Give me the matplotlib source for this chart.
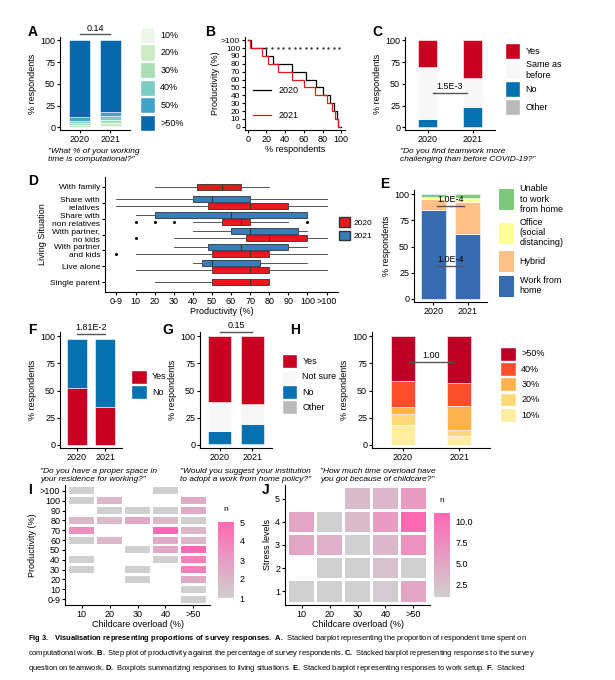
import numpy as np
import matplotlib
matplotlib.use("Agg")
import matplotlib.pyplot as plt
from matplotlib.patches import Patch
from matplotlib.colors import LinearSegmentedColormap

plt.rcParams['font.family'] = ['Liberation Sans', 'DejaVu Sans']
plt.rcParams['font.size'] = 6.5
plt.rcParams['mathtext.fontset'] = 'custom'
plt.rcParams['mathtext.rm'] = 'Liberation Sans'
plt.rcParams['mathtext.bf'] = 'Liberation Sans:bold'

W, H = 615, 680
years = ['2020', '2021']

# A
a_labels = ['10%', '20%', '30%', '40%', '50%', '>50%']
a_2020 = [1, 2, 2, 2, 5, 88]
a_2021 = [2, 3, 3, 5, 5, 82]
a_colors = ['#eef8ea', '#ccebc5', '#a8ddb5', '#7bccc4', '#43a2ca', '#0868ac']

# B: step plot, level ends (x) for each productivity level
b_levels = [110, 100, 90, 80, 70, 60, 50, 40, 30, 20, 10, 0]
b_2020_x = [3, 20, 27, 47, 62, 73, 80, 88, 92, 95, 97, 100]
b_2021_x = [2, 15, 22, 32, 47, 60, 72, 85, 90, 93, 96, 99]

# C
c_labels = ['Other', 'No', 'Same as\nbefore', 'Yes']
c_2020 = [1, 9, 59, 31]
c_2021 = [1, 22, 34, 43]
c_colors = ['#bababa', '#0571b0', '#f7f7f7', '#ca0020']

# D: box stats (low whisker, q1, median, q3, high whisker)
d_groups = ['With family', 'Share with\nrelatives', 'Share with\nnon relatives',
            'With partner,\nno kids', 'With partner\nand kids', 'Live alone', 'Single parent']
d_2021 = [None, (0, 40, 50, 70, 110), (10, 20, 60, 100, 100), (40, 60, 70, 95, 100),
          (30, 48, 65, 90, 100), (40, 45, 50, 75, 100), None]
d_2020 = [(20, 42, 55, 65, 80), (0, 48, 70, 90, 110), (40, 55, 65, 70, 90), (30, 68, 80, 100, 110),
          (10, 50, 70, 80, 110), (10, 50, 70, 80, 110), (20, 50, 70, 80, 80)]
d_fliers_2020 = [[], [], [10, 20, 30, 100], [10], [0], [], []]
d_ticks = ['0-9', '10', '20', '30', '40', '50', '60', '70', '80', '90', '100', '>100']

# E
e_labels = ['Work from\nhome', 'Hybrid', 'Office\n(social\ndistancing)', 'Unable\nto work\nfrom home']
e_2020 = [85, 10, 2, 3]
e_2021 = [62, 31, 3, 4]
e_colors = ['#386cb0', '#fdc086', '#ffff99', '#7fc97f']

# F
f_labels = ['Yes', 'No']
f_2020 = [52, 46]
f_2021 = [35, 63]
f_colors = ['#ca0020', '#0571b0']

# G
g_labels = ['Other', 'No', 'Not sure', 'Yes']
g_2020 = [0.5, 12.5, 26, 61]
g_2021 = [1, 18, 19, 62]
g_colors = ['#bababa', '#0571b0', '#f7f7f7', '#ca0020']

# H
h_labels = ['10%', '20%', '30%', '40%', '>50%']
h_2020 = [18, 10, 7, 24, 41]
h_2021 = [8, 6, 22, 21, 43]
h_colors = ['#ffeda0', '#fed976', '#feb24c', '#fc4e2a', '#bd0026']

# I heatmap
childcare = ['10', '20', '30', '40', '>50']
i_prod = ['0-9', '10', '20', '30', '40', '50', '60', '70', '80', '90', '100', '>100']
i_vals = {  # productivity -> counts per childcare level (0 = none)
    '>100': [1, 0, 0, 1, 0],
    '100': [1, 2, 0, 0, 2.5],
    '90': [0, 1, 1, 1, 2.5],
    '80': [2, 1.8, 2.5, 1.8, 1],
    '70': [3.5, 0, 0, 5, 2],
    '60': [1, 2, 0, 2.5, 2],
    '50': [0, 0, 1, 2.5, 5],
    '40': [1, 0, 0, 1, 4],
    '30': [1, 0, 1, 0, 4],
    '20': [0, 0, 1, 0, 2.5],
    '10': [0, 0, 0, 0, 1],
    '0-9': [0, 0, 0, 0, 1],
}
# J heatmap
j_stress = ['1', '2', '3', '4', '5']
j_vals = {
    '5': [0, 0, 3, 3.5, 6],
    '4': [5, 1, 3, 6, 11],
    '3': [5, 4, 1, 3.5, 7],
    '2': [0, 1, 1, 2.5, 1],
    '1': [1, 1, 1, 1.5, 5],
}

cmap = LinearSegmentedColormap.from_list('gp', ['#d0d0d0', '#ff69b4'])

fig = plt.figure(figsize=(W / 100, H / 100), dpi=100)


def add_ax(l, t, r, b):
    return fig.add_axes([l / W, 1 - b / H, (r - l) / W, (b - t) / H])


def style(ax):
    ax.spines['top'].set_visible(False)
    ax.spines['right'].set_visible(False)
    ax.tick_params(length=2, pad=1.5)


def letter(x, y, s):
    fig.text(x / W, 1 - y / H, s, fontsize=10, fontweight='bold', va='center')


def stacked(ax, vals20, vals21, colors, labels, legend_rev=True, xlim=(-0.6, 1.6), width=0.7,
            hh=2.4):
    b0 = np.zeros(2)
    handles = []
    for v0, v1, c, lab in zip(vals20, vals21, colors, labels):
        ax.bar([0, 1], [v0, v1], bottom=b0, color=c, width=width, edgecolor='white', linewidth=0.4)
        b0 = b0 + np.array([v0, v1])
        handles.append(Patch(facecolor=c, edgecolor='white', label=lab))
    ax.set_xticks([0, 1], years)
    ax.set_xlim(*xlim)
    ax.set_ylim(-3, 104)
    ax.set_yticks([0, 25, 50, 75, 100])
    ax.set_ylabel('% respondents', fontsize=6.5, labelpad=2)
    style(ax)
    if legend_rev:
        handles = handles[::-1]
    ax.legend(handles=handles, loc='center left', bbox_to_anchor=(1.02, 0.55), frameon=False,
              handlelength=1.7, handleheight=hh, labelspacing=0.15, handletextpad=0.6, fontsize=6.5)


def bracket(ax, y, text, x0=0, x1=1):
    ax.plot([x0, x1], [y, y], color='#555555', lw=1, clip_on=False)
    ax.text((x0 + x1) / 2, y + 2, text, ha='center', va='bottom', fontsize=6.5)


def caption(x, y, s):
    fig.text(x / W, 1 - y / H, s, fontsize=6, style='italic', va='top')


# ---- A
ax = add_ax(60, 37, 130, 130)
stacked(ax, a_2020, a_2021, a_colors, a_labels, legend_rev=False, xlim=(-0.65, 1.65))
bracket(ax, 107, '0.14')
letter(28, 32, 'A')
caption(48, 148, '"What % of your working\ntime is computational?"')

# ---- B
ax = add_ax(245, 37, 345, 130)
for xs, col, lab in [(b_2020_x, 'black', '2020'), (b_2021_x, '#e41a1c', '2021')]:
    x = [0] + xs
    y = [b_levels[0]] + b_levels
    ax.step(x, y, where='pre', color=col, lw=0.9, label=lab)
dots = np.arange(20, 101, 6)
ax.plot(dots, [100] * len(dots), ls='none', marker='.', ms=1.5, color='#444444')
ax.set_yticks(np.arange(0, 111, 10), [str(v) for v in range(0, 101, 10)] + ['>100'])
ax.set_xticks([0, 20, 40, 60, 80, 100])
ax.set_xlim(-3, 104)
ax.set_ylim(-4, 114)
ax.set_xlabel('% respondents', fontsize=6.5, labelpad=1)
ax.set_ylabel('Productivity (%)', fontsize=6.5, labelpad=1)
ax.tick_params(axis='y', labelsize=6)
style(ax)
ax.legend(loc='lower left', bbox_to_anchor=(0.0, 0.02), frameon=False, handlelength=2, labelspacing=1.8, fontsize=6.5)
letter(205, 32, 'B')

# ---- C
ax = add_ax(405, 37, 495, 130)
stacked(ax, c_2020, c_2021, c_colors, c_labels, xlim=(-0.5, 1.5), width=0.42)
bracket(ax, 40, '1.5E-3', 0.12, 0.88)
letter(372, 32, 'C')
caption(400, 148, '"Do you find teamwork more\nchallenging than before COVID-19?"')

# ---- D
ax = add_ax(105, 177, 338, 292)
n = len(d_groups)
ypos = np.arange(n)[::-1]
for i in range(n):
    for stats, col, off, fl in [(d_2021[i], '#377eb8', 0.2, []), (d_2020[i], '#e41a1c', -0.2, d_fliers_2020[i])]:
        if stats is None:
            continue
        if d_2021[i] is None:
            off = 0
        lo, q1, med, q3, hi = stats
        st = dict(whislo=lo, q1=q1, med=med, q3=q3, whishi=hi, fliers=fl)
        ax.bxp([st], positions=[ypos[i] + off], widths=0.38, vert=False, patch_artist=True,
               boxprops=dict(facecolor=col, edgecolor='#333333', lw=0.6),
               medianprops=dict(color='#333333', lw=0.8),
               whiskerprops=dict(color='#555555', lw=0.7), showcaps=False,
               flierprops=dict(marker='o', ms=1.2, markerfacecolor='black', markeredgecolor='black'))
ax.set_yticks(ypos, d_groups)
ax.set_xticks(np.arange(0, 111, 10), d_ticks)
ax.set_xlim(-6, 116)
ax.set_ylim(-0.6, n - 0.4)
ax.tick_params(axis='y', labelsize=6)
ax.set_xlabel('Productivity (%)', fontsize=6.5, labelpad=1)
ax.set_ylabel('Living Situation', fontsize=6.5, labelpad=2)
style(ax)
ax.legend(handles=[Patch(facecolor='#e41a1c', edgecolor='#333333', label='2020'),
                   Patch(facecolor='#377eb8', edgecolor='#333333', label='2021')],
          loc='center left', bbox_to_anchor=(0.97, 0.55), frameon=False, handlelength=1.4,
          handleheight=1.4, handletextpad=0.4, fontsize=6)
letter(28, 181, 'D')

# ---- E
ax = add_ax(414, 190, 487, 302)
stacked(ax, e_2020, e_2021, e_colors, e_labels, xlim=(-0.55, 1.55), width=0.72)
ax.legend(handles=[Patch(facecolor=c, label=l) for c, l in zip(e_colors, e_labels)][::-1],
          loc='center left', bbox_to_anchor=(1.05, 0.55), frameon=False,
          handlelength=1.7, handleheight=3.2, labelspacing=0.4, handletextpad=0.6, fontsize=6.5)
bracket(ax, 89, '1.0E-4', 0.1, 0.9)
bracket(ax, 31, '1.0E-4', 0.1, 0.9)
letter(380, 184, 'E')

# ---- F
ax = add_ax(60, 332, 122, 448)
stacked(ax, f_2020, f_2021, f_colors, f_labels, legend_rev=False, xlim=(-0.6, 1.6), hh=2.0)
bracket(ax, 102, '1.81E-2')
letter(28, 330, 'F')
caption(40, 468, '"Do you have a proper space in\nyour residence for working?"')

# ---- G
ax = add_ax(200, 332, 272, 448)
stacked(ax, g_2020, g_2021, g_colors, g_labels, xlim=(-0.6, 1.6), hh=2.0)
bracket(ax, 104, '0.15')
letter(162, 330, 'G')
caption(180, 468, '"Would you suggest your institution\nto adopt a work from home policy?"')

# ---- H
ax = add_ax(372, 332, 490, 448)
stacked(ax, h_2020, h_2021, h_colors, h_labels, xlim=(-0.55, 1.55), width=0.42, hh=2.0)
bracket(ax, 76, '1.00', 0.1, 0.9)
letter(290, 330, 'H')
caption(320, 468, '"How much time overload have\nyou got because of childcare?"')


# ---- heatmaps
def heat(ax, rows, vals, th, vmax, cticks, cpos):
    for r, lab in enumerate(rows):
        for c, v in enumerate(vals[lab]):
            if v <= 0:
                continue
            ax.add_patch(plt.Rectangle((c - 0.45, r - th / 2), 0.9, th,
                                       facecolor=cmap((v - 1) / (vmax - 1)), edgecolor='none'))
    ax.set_xlim(-0.6, len(childcare) - 0.4)
    ax.set_ylim(-0.6, len(rows) - 0.4)
    ax.set_xticks(range(len(childcare)), childcare)
    ax.set_yticks(range(len(rows)), rows)
    ax.set_xlabel('Childcare overload (%)', fontsize=6.5, labelpad=1)
    style(ax)
    cax = add_ax(*cpos)
    grad = np.linspace(1, vmax, 100).reshape(-1, 1)
    cax.imshow(grad, aspect='auto', cmap=cmap, origin='lower', extent=[0, 1, 1, vmax])
    cax.set_xticks([])
    cax.yaxis.tick_right()
    cax.set_yticks(cticks)
    cax.tick_params(length=0, pad=4)
    for s in cax.spines.values():
        s.set_visible(False)
    cax.set_title('n', fontsize=6, pad=8)


ax = add_ax(65, 485, 210, 605)
heat(ax, i_prod, i_vals, 0.7, 5, [1, 2, 3, 4, 5], (218, 522, 234, 598))
ax.set_ylabel('Productivity (%)', fontsize=6.5, labelpad=2)
letter(28, 490, 'I')

ax = add_ax(285, 485, 430, 605)
heat(ax, j_stress, j_vals, 0.9, 11, [2.5, 5.0, 7.5, 10.0], (434, 513, 450, 597))
ax.set_ylabel('Stress levels', fontsize=6.5, labelpad=2)
letter(262, 490, 'J')

fig.text(28 / W, 1 - 633 / H,
         r"$\bf{Fig\ 3.\ \ Visualisation\ representing\ proportions\ of\ survey\ responses.\ A.}$"
         " Stacked barplot representing the proportion of respondent time spent on\n"
         r"computational work. $\bf{B.}$ Step plot of productivity against the percentage of survey respondents. "
         r"$\bf{C.}$ Stacked barplot representing responses to the survey" "\n"
         r"question on teamwork. $\bf{D.}$ Boxplots summarizing responses to living situations. "
         r"$\bf{E.}$ Stacked barplot representing responses to work setup. $\bf{F.}$ Stacked",
         fontsize=5.4, va='top', linespacing=1.6)

fig.savefig('out.png', dpi=100)
